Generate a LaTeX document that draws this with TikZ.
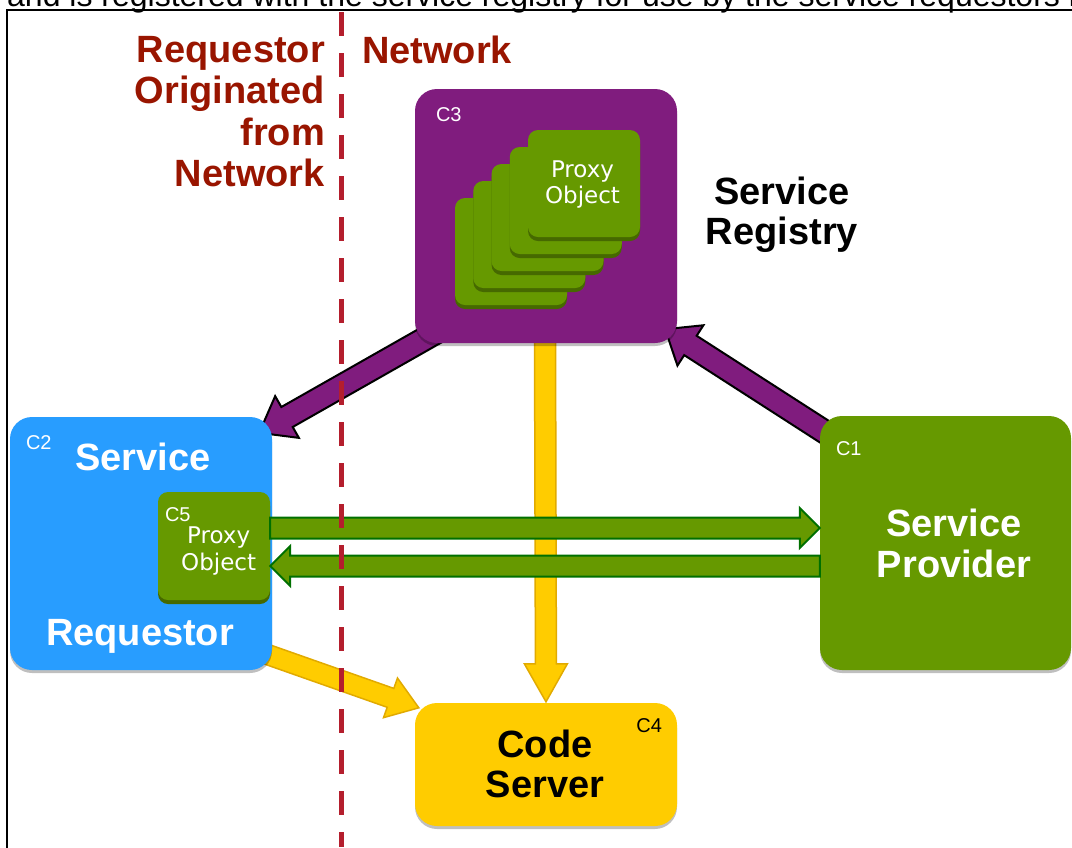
\documentclass[tikz,border=0pt]{standalone}
\usepackage{fontspec}
\setmainfont{Liberation Sans}
\newfontfamily\proxyfont{DejaVu Sans}
\usetikzlibrary{calc, shadows, backgrounds}
\definecolor{regPurple}{RGB}{128, 28, 126}
\definecolor{reqBlue}{RGB}{40, 157, 255}
\definecolor{provGreen}{RGB}{102, 153, 0}
\definecolor{cardEdge}{RGB}{70, 105, 0}
\definecolor{codeYellow}{RGB}{255, 204, 0}
\definecolor{zoneRed}{RGB}{153, 21, 0}
\definecolor{lineRed}{RGB}{180, 30, 45}
\definecolor{arrowGreen}{RGB}{0, 112, 0}
\definecolor{arrowYellow}{RGB}{225, 170, 0}

% fat block arrow: style, from, to, shaft half width, head half width, head length
\newcommand{\fatarrow}[6]{%
  \coordinate (fa-s) at #2;
  \coordinate (fa-t) at #3;
  \coordinate (fa-b) at ($(fa-t)!#6!(fa-s)$);
  \draw[#1] ($(fa-s)!#4!90:(fa-t)$) -- ($(fa-b)!#4!-90:(fa-s)$) -- ($(fa-b)!#5!-90:(fa-s)$)
    -- (fa-t) -- ($(fa-b)!#5!90:(fa-s)$) -- ($(fa-b)!#4!90:(fa-s)$) -- ($(fa-s)!#4!-90:(fa-t)$) -- cycle;
}

\begin{document}
\begin{tikzpicture}[x=1pt, y=-1pt,
    every node/.style={inner sep=0pt},
    box/.style={fill=#1, rounded corners=22pt, drop shadow={shadow xshift=0pt, shadow yshift=-3pt, fill=black, opacity=.25}},
    card/.style={fill=provGreen, rounded corners=10pt, minimum width=112pt, minimum height=107pt, drop shadow={shadow xshift=0pt, shadow yshift=-4pt, fill=cardEdge, opacity=1}},
    tag/.style={font=\fontsize{20}{24}\selectfont, text=white},
    bigtext/.style={font=\bfseries\fontsize{38}{40.5}\selectfont, align=center, text=white},
    zonetext/.style={font=\bfseries\fontsize{38}{41.5}\selectfont, text=zoneRed},
    proxytext/.style={font=\proxyfont\fontsize{23}{26.5}\selectfont, text=white, align=center},
    purplearrow/.style={fill=regPurple, draw=black, line width=2pt, line join=miter},
    yellowarrow/.style={fill=codeYellow, draw=arrowYellow, line width=1.5pt, line join=miter},
    greenarrow/.style={fill=provGreen, draw=arrowGreen, line width=2pt, line join=miter},
]
\useasboundingbox (0,0) rectangle (1072,847);
\clip (0,0) rectangle (1072,847);

% caption line cut by the frame
\node[anchor=base west, font=\fontsize{32}{36}\selectfont] (caption) at (7,6) {and is registered with the service registry for use by the service requestors i};
\draw[line width=2pt] (7,10) rectangle (1100,880);

% zone labels
\node[zonetext, align=right, anchor=east] (zonereq) at (325,111.5) {Requestor\\Originated\\from\hspace*{.28em}\\Network};
\node[zonetext, anchor=base west] (zonenet) at (362,63) {Network};

% boxes
\node[box=regPurple, minimum width=262pt, minimum height=254pt] (reg) at (546,216) {};
\node[box=reqBlue, minimum width=262pt, minimum height=253pt] (req) at (141,543.5) {};
\node[box=provGreen, minimum width=251pt, minimum height=254pt] (prov) at (945.5,543) {};
\node[box=codeYellow, minimum width=262pt, minimum height=123pt] (code) at (546,764.5) {};
\node[card, minimum height=108pt] (proxy) at (214,546) {};

% proxy object stack
\foreach \i in {4,3,2,1,0}
  \node[card] (card\i) at ({584-18.25*\i},{183.5+17*\i}) {};

% tags
\node[tag, anchor=base west] (tagreg) at ([shift={(21,33)}]reg.north west) {C3};
\node[tag, anchor=base west] (tagreq) at ([shift={(16,33)}]req.north west) {C2};
\node[tag, anchor=base west] (tagprov) at ([shift={(16,40)}]prov.north west) {C1};
\node[tag, anchor=base east, text=black] (tagcode) at ([shift={(-15,30)}]code.north east) {C4};
\node[tag, anchor=base west] (tagproxy) at ([shift={(7,30)}]proxy.north west) {C5};

% texts
\node[bigtext, text=black] (regtext) at (782,215) {Service\\Registry};
\node[bigtext, anchor=base] (reqtop) at (143,470) {Service};
\node[bigtext, anchor=base] (reqbot) at (140,645) {Requestor};
\node[bigtext] (provtext) at (954,543.5) {Service\\Provider};
\node[bigtext, text=black] (codetext) at (545,764) {Code\\Server};
\node[proxytext] (cardtext) at (582.5,184.3) {Proxy\\Object};
\node[proxytext] (proxytext) at (218.7,550.8) {Proxy\\Object};

% arrows behind the boxes
\begin{scope}[on background layer]
\fatarrow{purplearrow}{([shift={(25,-13)}]reg.south west)}{([shift={(-13,16)}]req.north east)}{11.5pt}{24pt}{32pt}
\fatarrow{purplearrow}{([shift={(25,29)}]prov.north west)}{([shift={(-12,-14)}]reg.south east)}{11.5pt}{24pt}{30pt}
\fatarrow{yellowarrow}{([shift={(-1,-13)}]reg.south)}{([shift={(0,-1)}]code.north)}{10.5pt}{21.5pt}{38pt}
\fatarrow{yellowarrow}{([shift={(-17,-20)}]req.south east)}{([shift={(4,5)}]code.north west)}{10pt}{21pt}{30pt}
\end{scope}

% calls between proxy and provider
\fatarrow{greenarrow}{([shift={(0,-18)}]proxy.east)}{([shift={(0,-15)}]prov.west)}{10.5pt}{20pt}{20pt}
\fatarrow{greenarrow}{([shift={(0,23)}]prov.west)}{([shift={(0,20)}]proxy.east)}{10.5pt}{20pt}{20pt}

% zone border
\draw[lineRed, line width=5pt, dash pattern=on 24pt off 17pt] (341,12) -- (341,847);
\end{tikzpicture}
\end{document}
